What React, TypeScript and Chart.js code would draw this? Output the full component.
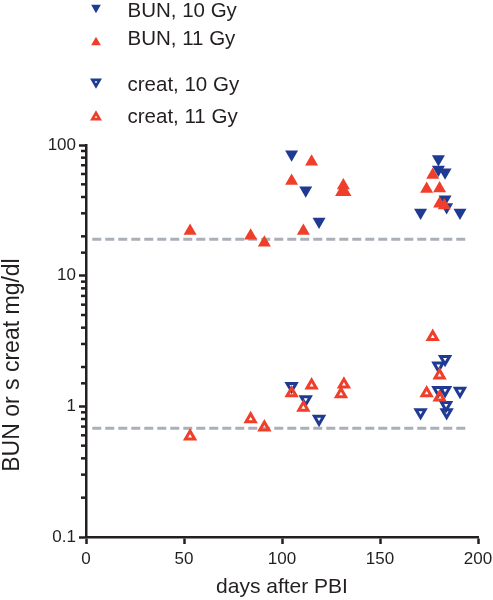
import React, { useEffect, useRef } from 'react';
import { Chart, registerables } from 'chart.js';

Chart.register(...registerables);

// ---- data ----
const bun10X = [104.9, 112.1, 118.9, 179.8, 179.8, 183.2, 183.2, 184.0, 170.7, 190.8];
const bun10Y = [85, 45, 26, 78, 65, 62, 38.5, 33.5, 30.5, 30.5];

const bun11X = [53.1, 84.0, 91.0, 104.9, 115.1, 110.9, 131.3, 130.4, 132.1, 176.9, 173.8, 180.4, 180.4, 182.8];
const bun11Y = [22, 20.2, 17.9, 53, 74.5, 22, 49, 43.5, 43.5, 59, 46, 46.5, 35.5, 34.5];

const creat10X = [104.9, 112.1, 118.9, 170.7, 179.8, 183.2, 179.8, 183.2, 183.7, 184.0, 190.8];
const creat10Y = [1.43, 1.13, 0.8, 0.9, 2.05, 2.3, 1.33, 1.33, 1.02, 0.9, 1.31];

const creat11X = [53.1, 84.0, 91.0, 104.9, 115.1, 110.9, 131.6, 130.1, 176.9, 173.8, 180.4, 180.4];
const creat11Y = [0.59, 0.8, 0.69, 1.26, 1.45, 0.98, 1.47, 1.24, 3.4, 1.26, 1.73, 1.17];

const refLineX = [3.2, 194.3];
const bunRefY = [19, 19];
const creatRefY = [0.68, 0.68];

const xTickStep = 50;
const xRange = [0, 200];
const yRange = [0.1, 100];

const xTitle = 'days after PBI';
const yTitle = 'BUN or s creat mg/dl';
const legendLabels = ['BUN, 10 Gy', 'BUN, 11 Gy', 'creat, 10 Gy', 'creat, 11 Gy'];

// ---- style ----
const BLUE = '#1f3a93';
const RED = '#ef3e29';
const INK = '#231f20';
const GREY = '#a9b0b8';
const FAMILY = "'Liberation Sans', Arial, Helvetica, sans-serif";

const pts = (xs: number[], ys: number[]) => xs.map((x, i) => ({ x, y: ys[i] }));

const isDecade = (v: number) => {
  const l = Math.log10(v);
  return Math.abs(l - Math.round(l)) < 1e-9;
};

function tri(
  ctx: CanvasRenderingContext2D,
  x: number,
  y: number,
  r: number,
  down: boolean,
  fill: string | null,
  stroke: string | null,
  bw: number
) {
  ctx.save();
  ctx.beginPath();
  const s = down ? -1 : 1;
  for (let k = 0; k < 3; k++) {
    const a = (k * 2 * Math.PI) / 3;
    const px = x + Math.sin(a) * r;
    const py = y - s * Math.cos(a) * r;
    if (k === 0) ctx.moveTo(px, py);
    else ctx.lineTo(px, py);
  }
  ctx.closePath();
  if (fill) {
    ctx.fillStyle = fill;
    ctx.fill();
  }
  if (stroke) {
    ctx.lineWidth = bw;
    ctx.strokeStyle = stroke;
    ctx.stroke();
  }
  ctx.restore();
}

const legendPlugin = {
  id: 'customLegend',
  afterDraw(chart: any) {
    const ctx: CanvasRenderingContext2D = chart.ctx;
    const mx = 96;
    const tx = 127.5;
    const rows = [
      { my: 9, ty: 17, down: true, color: BLUE, filled: true },
      { my: 41, ty: 45, down: false, color: RED, filled: true },
      { my: 83, ty: 91, down: true, color: BLUE, filled: false },
      { my: 116, ty: 123, down: false, color: RED, filled: false },
    ];
    rows.forEach((r, i) => {
      if (r.filled) {
        const rad = 5.6;
        const cy = r.down ? r.my - rad / 4 : r.my + rad / 4;
        tri(ctx, mx, cy, rad, r.down, r.color, null, 0);
      } else {
        const rad = 4.2;
        const cy = r.down ? r.my - rad / 4 : r.my + rad / 4;
        tri(ctx, mx, cy, rad, r.down, null, r.color, 2.7);
      }
      ctx.save();
      ctx.fillStyle = INK;
      ctx.font = `20.5px ${FAMILY}`;
      ctx.textBaseline = 'alphabetic';
      ctx.textAlign = 'left';
      ctx.fillText(legendLabels[i], tx, r.ty);
      ctx.restore();
    });
  },
};

const axisExtrasPlugin = {
  id: 'axisExtras',
  afterDraw(chart: any) {
    const y = chart.scales.y;
    const ctx: CanvasRenderingContext2D = chart.ctx;
    const x0 = chart.chartArea.left;
    ctx.save();
    ctx.strokeStyle = INK;
    ctx.lineWidth = 2.5;
    y.ticks.forEach((t: any) => {
      if (isDecade(t.value)) return;
      const py = y.getPixelForValue(t.value);
      ctx.beginPath();
      ctx.moveTo(x0 - 5, py);
      ctx.lineTo(x0, py);
      ctx.stroke();
    });
    ctx.restore();

    // y axis title
    ctx.save();
    ctx.fillStyle = INK;
    ctx.font = `23px ${FAMILY}`;
    ctx.textAlign = 'center';
    ctx.textBaseline = 'alphabetic';
    ctx.translate(19, 365);
    ctx.rotate(-Math.PI / 2);
    ctx.fillText(yTitle, 0, 0);
    ctx.restore();
  },
};

export default function App() {
  const ref = useRef<HTMLCanvasElement | null>(null);

  useEffect(() => {
    if (!ref.current) return;
    const tickFont = { size: 17, family: FAMILY };
    const chart = new Chart(ref.current, {
      type: 'scatter',
      data: {
        datasets: [
          {
            label: 'BUN, 11 Gy',
            data: pts(bun11X, bun11Y),
            pointStyle: 'triangle',
            pointRadius: 7.5,
            pointBackgroundColor: RED,
            pointBorderColor: RED,
            pointBorderWidth: 0,
            order: 0,
          },
          {
            label: 'creat, 11 Gy',
            data: pts(creat11X, creat11Y),
            pointStyle: 'triangle',
            pointRadius: 5.3,
            pointBackgroundColor: 'rgba(0,0,0,0)',
            pointBorderColor: RED,
            pointBorderWidth: 3,
            order: 0,
          },
          {
            label: 'BUN, 10 Gy',
            data: pts(bun10X, bun10Y),
            pointStyle: 'triangle',
            pointRotation: 180,
            pointRadius: 7.5,
            pointBackgroundColor: BLUE,
            pointBorderColor: BLUE,
            pointBorderWidth: 0,
            order: 1,
          },
          {
            label: 'creat, 10 Gy',
            data: pts(creat10X, creat10Y),
            pointStyle: 'triangle',
            pointRotation: 180,
            pointRadius: 5.3,
            pointBackgroundColor: 'rgba(0,0,0,0)',
            pointBorderColor: BLUE,
            pointBorderWidth: 3,
            order: 1,
          },
          {
            label: 'BUN ref',
            data: pts(refLineX, bunRefY),
            showLine: true,
            pointRadius: 0,
            borderColor: GREY,
            borderWidth: 3,
            borderDash: [9, 4],
            order: 2,
          },
          {
            label: 'creat ref',
            data: pts(refLineX, creatRefY),
            showLine: true,
            pointRadius: 0,
            borderColor: GREY,
            borderWidth: 3,
            borderDash: [9, 4],
            order: 2,
          },
        ],
      },
      options: {
        responsive: false,
        animation: false,
        events: [],
        layout: { padding: { top: 145, right: 15, left: 0, bottom: 0 } },
        plugins: {
          legend: { display: false },
          tooltip: { enabled: false },
        },
        scales: {
          x: {
            type: 'linear',
            position: 'bottom',
            min: xRange[0],
            max: xRange[1],
            ticks: {
              stepSize: xTickStep,
              font: tickFont,
              color: INK,
              padding: 5,
              maxRotation: 0,
            },
            grid: {
              display: true,
              drawOnChartArea: false,
              drawTicks: true,
              tickLength: 7,
              tickWidth: 2.5,
              tickColor: INK,
            },
            border: { display: true, color: INK, width: 2.5 },
            title: {
              display: true,
              text: xTitle,
              font: { size: 21, family: FAMILY },
              color: INK,
              padding: 0,
            },
            afterFit: (s: any) => {
              s.height = 63;
              s.paddingRight = 15;
              s.paddingLeft = 0;
            },
          },
          y: {
            type: 'logarithmic',
            position: 'left',
            min: yRange[0],
            max: yRange[1],
            ticks: {
              autoSkip: false,
              font: tickFont,
              color: INK,
              padding: 3,
              callback: (v: any) => (isDecade(Number(v)) ? String(Number(v)) : ''),
            },
            grid: {
              display: true,
              drawOnChartArea: false,
              drawTicks: true,
              tickLength: 7,
              tickWidth: 2.5,
              tickColor: (c: any) =>
                c.tick && isDecade(c.tick.value) ? INK : 'rgba(0,0,0,0)',
            },
            border: { display: true, color: INK, width: 2.5 },
            title: { display: false },
            afterFit: (s: any) => {
              s.width = 86;
            },
          },
        },
      } as any,
      plugins: [legendPlugin, axisExtrasPlugin],
    });
    return () => chart.destroy();
  }, []);

  return (
    <div style={{ position: 'absolute', left: 0, top: 0, width: 493, height: 600, background: '#fff' }}>
      <canvas ref={ref} width={493} height={600} style={{ width: 493, height: 600, display: 'block' }} />
    </div>
  );
}
